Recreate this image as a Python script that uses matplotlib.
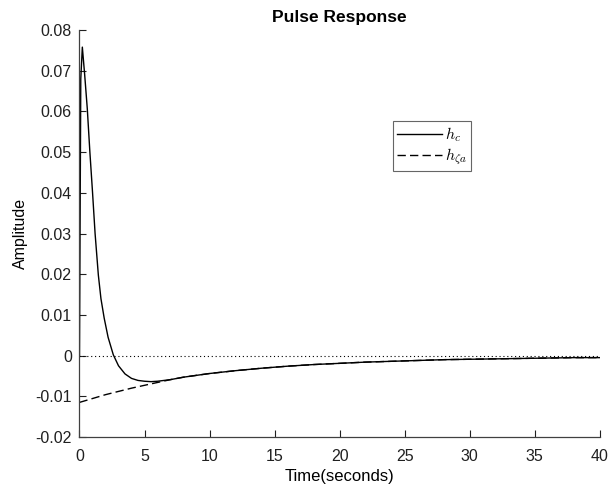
import matplotlib
matplotlib.use("Agg")
import matplotlib.pyplot as plt
from matplotlib.ticker import FuncFormatter

# h_c (solid)
t_c = [0, 0.1, 0.22, 0.4, 0.6, 0.8, 1.0, 1.2, 1.45, 1.65, 1.9, 2.2, 2.6, 3.0, 3.5, 4.0,
       4.5, 5.0, 5.5, 6.0, 7.0, 8, 10, 12, 14, 16, 18, 20, 22, 24, 26, 28, 30, 32, 34,
       36, 38, 40]
h_c = [0, 0.068, 0.0758, 0.069, 0.0607, 0.050, 0.0403, 0.030, 0.0198, 0.014, 0.0092,
       0.0045, 0.0002, -0.0025, -0.0045, -0.0056, -0.0061, -0.0063, -0.0064, -0.0063,
       -0.0059, -0.0053, -0.0044, -0.0037, -0.0031, -0.0026, -0.0022, -0.0019, -0.0016,
       -0.0014, -0.0012, -0.0010, -0.0009, -0.0008, -0.0007, -0.0006, -0.0005, -0.0005]

# h_zeta_a (dashed)
t_za = [0, 2, 4, 6, 7, 8, 10, 12, 14, 16, 18, 20, 22, 24, 26, 28, 30, 32, 34, 36, 38, 40]
h_za = [-0.0115, -0.0096, -0.0080, -0.0066, -0.0059, -0.0053, -0.0044, -0.0037, -0.0031,
        -0.0026, -0.0022, -0.0019, -0.0016, -0.0014, -0.0012, -0.0010, -0.0009, -0.0008,
        -0.0007, -0.0006, -0.0005, -0.0005]

xticks = [0, 5, 10, 15, 20, 25, 30, 35, 40]
yticks = [-0.02, -0.01, 0, 0.01, 0.02, 0.03, 0.04, 0.05, 0.06, 0.07, 0.08]

plt.rcParams['font.family'] = ['Liberation Sans', 'DejaVu Sans']
plt.rcParams['mathtext.fontset'] = 'cm'

fig = plt.figure(figsize=(6.09, 4.93), dpi=100)
ax = fig.add_axes([0.1305, 0.1136, 0.8545, 0.8255])

ax.axhline(0, color='black', linestyle=(0, (1, 2.5)), linewidth=0.8)
ax.plot(t_c, h_c, color='black', linewidth=1.0, label=r'$h_c$')
ax.plot(t_za, h_za, color='black', linewidth=1.0, linestyle=(0, (6, 3)), label=r'$h_{\zeta a}$')

ax.set_xlim(0, 40)
ax.set_ylim(-0.02, 0.08)
ax.set_xticks(xticks)
ax.set_yticks(yticks)

def fmt(v, pos):
    s = ('%.2f' % v).rstrip('0').rstrip('.')
    if s in ('-0', '0.', ''):
        s = '0'
    return s

ax.yaxis.set_major_formatter(FuncFormatter(fmt))
ax.xaxis.set_major_formatter(FuncFormatter(lambda v, p: '%d' % v))

for s in ['top', 'right']:
    ax.spines[s].set_visible(False)
for s in ['left', 'bottom']:
    ax.spines[s].set_color('#404040')
    ax.spines[s].set_linewidth(0.9)
ax.tick_params(direction='in', length=5, width=0.8, labelsize=11.5, colors='#202020')
ax.tick_params(axis='x', pad=9)
ax.tick_params(axis='y', pad=5.5)

ax.set_xlabel('Time(seconds)', fontsize=12, labelpad=3)
ax.set_ylabel('Amplitude', fontsize=11.5, labelpad=5)
ax.set_title('Pulse Response', fontsize=12.5, fontweight='bold', pad=6)

leg = ax.legend(loc='upper left', bbox_to_anchor=(0.603, 0.776), frameon=True, fancybox=False,
                edgecolor='#404040', fontsize=11.5, handlelength=2.8, handletextpad=0.2,
                borderpad=0.25, labelspacing=0.15, borderaxespad=0)
leg.get_frame().set_linewidth(0.8)

fig.savefig('out.png', dpi=100)
